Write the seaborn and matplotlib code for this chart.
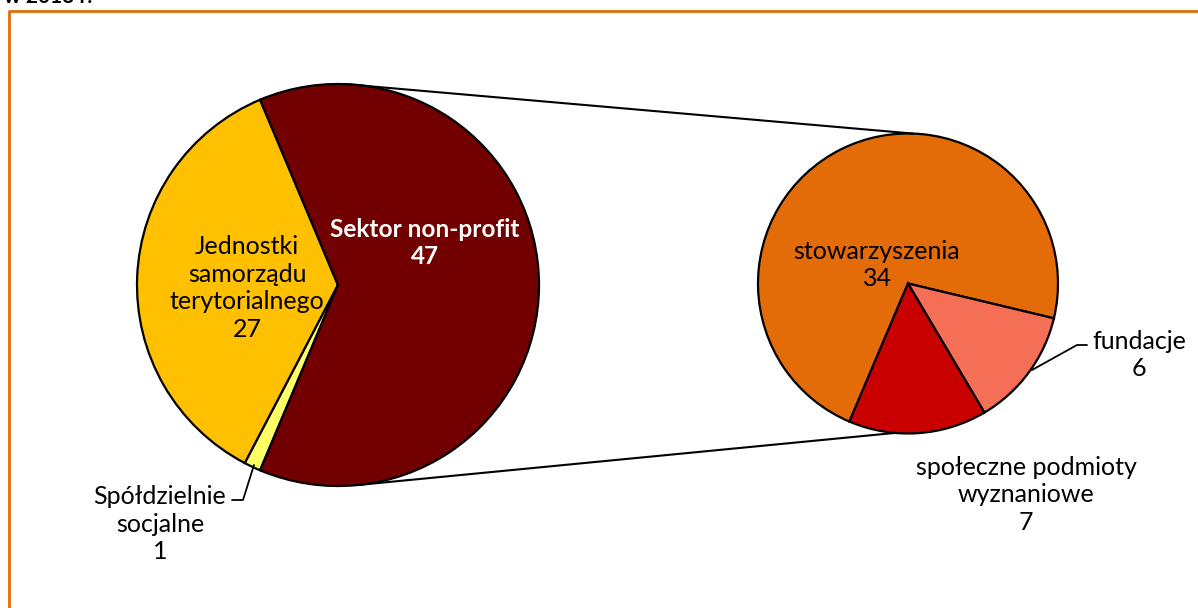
import numpy as np
import matplotlib
matplotlib.use("Agg")
import matplotlib.pyplot as plt
import seaborn as sns

# ---- data ----
left_labels = ["Jednostki\nsamorządu\nterytorialnego", "Spółdzielnie\nsocjalne", "Sektor non-profit"]
left_values = [27, 1, 47]
left_colors = ["#FFC000", "#FFFF66", "#720000"]

right_labels = ["stowarzyszenia", "fundacje", "społeczne podmioty\nwyznaniowe"]
right_values = [34, 6, 7]
right_colors = ["#E36C09", "#F46F55", "#C80000"]

title_text = "w 2013 r."

sns.set_theme(style="white")
plt.rcParams['font.family'] = ['Lato', 'DejaVu Sans']

W, H = 1198, 608
fig = plt.figure(figsize=(W / 100, H / 100), dpi=100)
ax = fig.add_axes([0, 0, 1, 1])

def Y(y):
    return H - y

# left pie
lc = (338, Y(285)); lr = 201
ax.pie(left_values, colors=left_colors, startangle=112.8, counterclock=True,
       center=lc, radius=lr, frame=True,
       wedgeprops=dict(edgecolor="black", linewidth=1.6))
# right pie
rc = (908, Y(283.5)); rr = 150
ax.pie(right_values, colors=right_colors, startangle=247, counterclock=False,
       center=rc, radius=rr, frame=True,
       wedgeprops=dict(edgecolor="black", linewidth=1.6))

def pt(c, r, ang):
    a = np.deg2rad(ang)
    return c[0] + r * np.cos(a), c[1] + r * np.sin(a)

# connector lines
p1 = pt(lc, lr, 88); p2 = pt(rc, rr, 88)
ax.plot([p1[0], p2[0]], [p1[1], p2[1]], color="black", lw=1.5)
p3 = pt(lc, lr, -83.6); p4 = pt(rc, rr, -95)
ax.plot([p3[0], p4[0]], [p3[1], p4[1]], color="black", lw=1.5)

fs = 18
# labels inside
ax.text(247, Y(288), f"{left_labels[0]}\n{left_values[0]}", ha="center", va="center",
        fontsize=fs, color="black", linespacing=1.25)
ax.text(425, Y(243), f"{left_labels[2]}\n{left_values[2]}", ha="center", va="center",
        fontsize=17.6, color="white", fontweight="bold", linespacing=1.25)
ax.text(877, Y(265), f"{right_labels[0]}\n{right_values[0]}", ha="center", va="center",
        fontsize=fs, color="black", linespacing=1.25)
# outside labels
ax.text(1139, Y(355), f"{right_labels[1]}\n{right_values[1]}", ha="center", va="center",
        fontsize=fs, color="black", linespacing=1.25)
ax.plot([1032, 1077, 1087], [Y(370), Y(345), Y(345)], color="black", lw=1.3)
ax.text(1026, Y(495), f"{right_labels[2]}\n{right_values[2]}", ha="center", va="center",
        fontsize=fs, color="black", linespacing=1.25)
ax.text(160, Y(524), f"{left_labels[1]}\n{left_values[1]}", ha="center", va="center",
        fontsize=fs, color="black", linespacing=1.25)
ax.plot([254, 243, 232], [Y(465), Y(500), Y(500)], color="black", lw=1.3)

# border and title (cut at top edge, as in the reference)
ax.plot([9, 9, W + 5], [Y(H + 5), Y(10.5), Y(10.5)], color="#E36C09", lw=2, solid_capstyle="butt")
ax.text(4, Y(3), title_text, ha="left", va="baseline", fontsize=15, fontweight="bold", color="black")

ax.set_xlim(0, W)
ax.set_ylim(0, H)
ax.set_aspect("equal")
ax.axis("off")
fig.savefig("out.png", dpi=100)
